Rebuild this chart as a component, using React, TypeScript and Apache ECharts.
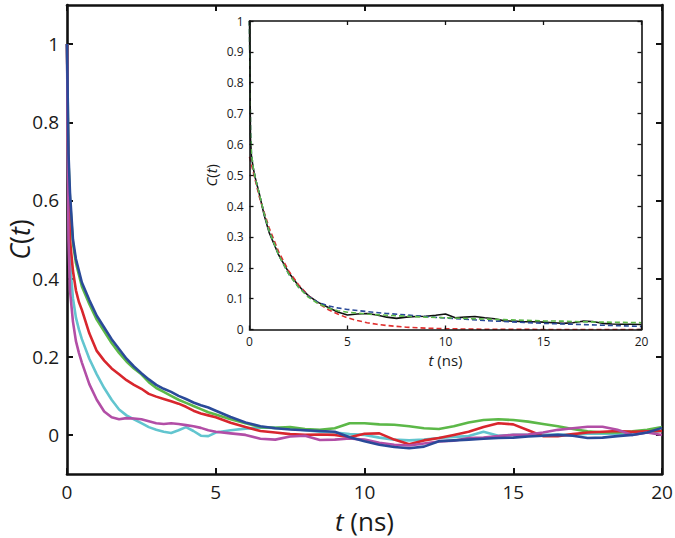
import React, { useEffect, useRef } from "react";
import * as echarts from "echarts";

// ---------- main panel data ----------
const tMain = [0, 0.05, 0.1, 0.2, 0.3, 0.4, 0.5, 0.75, 1, 1.25, 1.5, 1.75, 2, 2.25, 2.5, 2.75, 3, 3.25, 3.5, 3.75, 4, 4.25, 4.5, 4.75, 5, 5.5, 6, 6.5, 7, 7.5, 8, 8.5, 9, 9.5, 10, 10.5, 11, 11.5, 12, 12.5, 13, 13.5, 14, 14.5, 15, 15.5, 16, 16.5, 17, 17.5, 18, 18.5, 19, 19.5, 20];
const blueMain = [1.0, 0.72, 0.62, 0.5, 0.45, 0.42, 0.39, 0.345, 0.305, 0.275, 0.245, 0.22, 0.195, 0.175, 0.158, 0.142, 0.128, 0.118, 0.11, 0.1, 0.092, 0.083, 0.076, 0.07, 0.062, 0.046, 0.032, 0.022, 0.017, 0.014, 0.012, 0.01, 0.008, -0.006, -0.016, -0.025, -0.031, -0.034, -0.03, -0.016, -0.014, -0.012, -0.01, -0.008, -0.007, -0.004, -0.002, 0.0, -0.002, -0.008, -0.007, -0.003, 0.0, 0.006, 0.018];
const greenMain = [1.0, 0.7, 0.6, 0.49, 0.44, 0.41, 0.38, 0.335, 0.295, 0.265, 0.235, 0.21, 0.188, 0.17, 0.155, 0.135, 0.12, 0.11, 0.1, 0.09, 0.082, 0.074, 0.066, 0.058, 0.052, 0.04, 0.03, 0.02, 0.018, 0.02, 0.015, 0.013, 0.017, 0.03, 0.03, 0.027, 0.026, 0.022, 0.017, 0.015, 0.022, 0.032, 0.038, 0.04, 0.038, 0.034, 0.028, 0.022, 0.015, 0.009, 0.006, 0.006, 0.009, 0.013, 0.02];
const redMain = [1.0, 0.62, 0.5, 0.42, 0.37, 0.34, 0.32, 0.26, 0.215, 0.19, 0.17, 0.155, 0.14, 0.128, 0.118, 0.105, 0.098, 0.092, 0.086, 0.08, 0.072, 0.062, 0.055, 0.05, 0.045, 0.031, 0.02, 0.01, 0.006, 0.002, 0.0, 0.001, 0.0, -0.006, 0.003, 0.004, -0.012, -0.024, -0.014, -0.008, 0.0, 0.008, 0.02, 0.03, 0.027, 0.012, -0.003, -0.003, 0.002, 0.006, 0.008, 0.01, 0.008, 0.009, 0.01];
const cyanMain = [1.0, 0.58, 0.44, 0.35, 0.3, 0.27, 0.245, 0.195, 0.155, 0.12, 0.09, 0.065, 0.05, 0.04, 0.03, 0.02, 0.013, 0.008, 0.005, 0.012, 0.02, 0.01, -0.002, -0.003, 0.006, 0.012, 0.016, 0.019, 0.018, 0.016, 0.012, 0.008, 0.006, 0.002, 0.0, -0.007, -0.012, -0.014, -0.012, -0.008, -0.005, -0.003, 0.008, -0.002, 0.0, 0.0, 0.0, 0.001, 0.0, 0.003, 0.004, 0.002, 0.003, 0.006, 0.01];
const magentaMain = [1.0, 0.5, 0.37, 0.29, 0.24, 0.21, 0.185, 0.13, 0.09, 0.06, 0.045, 0.04, 0.043, 0.042, 0.04, 0.035, 0.03, 0.028, 0.03, 0.028, 0.025, 0.022, 0.018, 0.012, 0.008, 0.004, 0.0, -0.01, -0.012, -0.004, -0.002, -0.013, -0.012, -0.009, -0.012, -0.02, -0.025, -0.027, -0.022, -0.017, -0.015, -0.008, -0.007, -0.003, 0.0, 0.001, 0.006, 0.013, 0.017, 0.021, 0.021, 0.013, 0.0, 0.006, 0.0];

const mainYTicks = [0, 0.2, 0.4, 0.6, 0.8, 1];

// ---------- inset data ----------
const tInset = [0, 0.05, 0.1, 0.2, 0.3, 0.5, 0.75, 1, 1.5, 2, 2.5, 3, 3.5, 4, 4.5, 5, 5.5, 6, 6.5, 7, 7.5, 8, 8.5, 9, 9.5, 10, 10.5, 11, 11.5, 12, 12.5, 13, 13.5, 14, 14.5, 15, 15.5, 16, 16.5, 17, 17.5, 18, 18.5, 19, 19.5, 20];
const blackInset = [1.0, 0.62, 0.56, 0.52, 0.49, 0.44, 0.37, 0.315, 0.24, 0.185, 0.142, 0.11, 0.088, 0.072, 0.057, 0.047, 0.05, 0.052, 0.047, 0.04, 0.036, 0.04, 0.042, 0.043, 0.046, 0.05, 0.038, 0.04, 0.042, 0.038, 0.035, 0.028, 0.027, 0.025, 0.025, 0.024, 0.022, 0.02, 0.022, 0.027, 0.026, 0.02, 0.018, 0.017, 0.017, 0.016];

const tFitRed = [0, 0.5, 1, 1.5, 2, 2.5, 3, 3.5, 4, 4.5, 5, 5.5, 6, 6.5, 7, 7.5, 8, 9, 10, 11, 12, 14, 16, 18, 20];
const redFit = [0.56, 0.43, 0.33, 0.25, 0.19, 0.145, 0.11, 0.085, 0.065, 0.05, 0.038, 0.029, 0.022, 0.017, 0.013, 0.01, 0.0075, 0.0044, 0.0026, 0.0015, 0.0009, 0.0003, 0.0001, 0, 0];

const tFit = [0, 0.05, 0.1, 0.2, 0.3, 0.5, 0.75, 1, 1.5, 2, 2.5, 3, 3.5, 4, 4.5, 5, 6, 7, 8, 9, 10, 11, 12, 13, 14, 15, 16, 17, 18, 19, 20];
const blueFit = [1.0, 0.64, 0.57, 0.52, 0.49, 0.44, 0.375, 0.32, 0.24, 0.18, 0.138, 0.108, 0.088, 0.077, 0.07, 0.065, 0.058, 0.052, 0.047, 0.042, 0.037, 0.033, 0.029, 0.026, 0.023, 0.02, 0.018, 0.016, 0.014, 0.012, 0.01];
const greenFit = [1.0, 0.64, 0.57, 0.52, 0.49, 0.44, 0.375, 0.32, 0.24, 0.18, 0.137, 0.105, 0.084, 0.07, 0.061, 0.056, 0.05, 0.046, 0.043, 0.04, 0.038, 0.036, 0.034, 0.032, 0.03, 0.028, 0.027, 0.025, 0.024, 0.023, 0.022];

const zip = (t: number[], v: number[]) => t.map((x, i) => [x, v[i]]);

const FONT = "Open Sans";
const INK = "#1a1a1a";

export default function App() {
  const ref = useRef<HTMLDivElement>(null);
  useEffect(() => {
    const chart = echarts.init(ref.current!, null, { renderer: "svg" });
    const axisLine = (w: number) => ({ show: true, onZero: false, lineStyle: { color: "#111", width: w } });
    const mainLine = (name: string, color: string, data: number[]) => ({
      name, type: "line", xAxisIndex: 0, yAxisIndex: 0, data: zip(tMain, data),
      showSymbol: false, symbol: "none", lineStyle: { color, width: 2.6 }, z: 3,
    });
    const insetLine = (name: string, color: string, t: number[], data: number[], dashed: boolean) => ({
      name, type: "line", xAxisIndex: 2, yAxisIndex: 2, data: zip(t, data),
      showSymbol: false, symbol: "none",
      lineStyle: { color, width: 1.6, type: dashed ? [5, 3] : "solid" }, z: 5,
    });
    const rich = (size: number) => ({
      fontSize: size, fontFamily: FONT, color: INK, lineHeight: size,
      rich: { i: { fontSize: size, fontFamily: FONT, fontStyle: "italic", color: INK, lineHeight: size } },
    });
    chart.setOption({
      animation: false,
      backgroundColor: "#fff",
      grid: [
        { left: 67, top: 5, width: 595, height: 469, show: false, containLabel: false, outerBoundsMode: "none" },
        { left: 249.5, top: 21, width: 392, height: 308.5, show: true, backgroundColor: "#fff", borderWidth: 0, z: 4,
          containLabel: false, outerBoundsMode: "none" },
      ],
      xAxis: [
        {
          type: "value", gridIndex: 0, position: "bottom", min: 0, max: 20, interval: 5,
          axisLine: axisLine(2.6), splitLine: { show: false },
          axisTick: { show: true, inside: true, length: 6, lineStyle: { color: "#111", width: 2 } },
          axisLabel: { show: true, margin: 8, fontSize: 19, fontFamily: FONT, color: INK },
          name: "{i|t} (ns)", nameLocation: "middle", nameGap: 34, nameMoveOverlap: false,
          nameTextStyle: rich(26),
        },
        {
          type: "value", gridIndex: 0, position: "top", min: 0, max: 20, interval: 5,
          axisLine: axisLine(2.6), splitLine: { show: false },
          axisTick: { show: true, inside: true, length: 6, lineStyle: { color: "#111", width: 2 } },
          axisLabel: { show: false },
        },
        {
          type: "value", gridIndex: 1, position: "bottom", min: 0, max: 20, interval: 5,
          axisLine: axisLine(1.6), splitLine: { show: false }, z: 6,
          axisTick: { show: true, inside: true, length: 4, lineStyle: { color: "#111", width: 1.3 } },
          axisLabel: { show: true, margin: 6, fontSize: 12, fontFamily: FONT, color: INK },
          name: "{i|t} (ns)", nameLocation: "middle", nameGap: 23, nameMoveOverlap: false,
          nameTextStyle: rich(15),
        },
        {
          type: "value", gridIndex: 1, position: "top", min: 0, max: 20, interval: 5,
          axisLine: axisLine(1.6), splitLine: { show: false }, z: 6,
          axisTick: { show: true, inside: true, length: 4, lineStyle: { color: "#111", width: 1.3 } },
          axisLabel: { show: false },
        },
      ],
      yAxis: [
        {
          type: "value", gridIndex: 0, position: "left", min: -0.1, max: 1.1,
          axisLine: axisLine(2.6), splitLine: { show: false },
          axisTick: { show: true, inside: true, length: 6, lineStyle: { color: "#111", width: 2 },
            customValues: mainYTicks },
          axisLabel: { show: true, margin: 8, fontSize: 19, fontFamily: FONT, color: INK,
            customValues: mainYTicks, formatter: (v: number) => String(Math.round(v * 10) / 10) },
          name: "{i|C}({i|t})", nameLocation: "middle", nameGap: 34, nameMoveOverlap: false,
          nameTextStyle: rich(27),
        },
        {
          type: "value", gridIndex: 0, position: "right", min: -0.1, max: 1.1,
          axisLine: axisLine(2.6), splitLine: { show: false },
          axisTick: { show: true, inside: true, length: 6, lineStyle: { color: "#111", width: 2 },
            customValues: mainYTicks },
          axisLabel: { show: false },
        },
        {
          type: "value", gridIndex: 1, position: "left", min: 0, max: 1, interval: 0.1,
          axisLine: axisLine(1.6), splitLine: { show: false }, z: 6,
          axisTick: { show: true, inside: true, length: 4, lineStyle: { color: "#111", width: 1.3 } },
          axisLabel: { show: true, margin: 6, fontSize: 12, fontFamily: FONT, color: INK,
            formatter: (v: number) => String(Math.round(v * 10) / 10) },
          name: "{i|C}({i|t})", nameLocation: "middle", nameGap: 31, nameMoveOverlap: false,
          nameTextStyle: rich(15),
        },
        {
          type: "value", gridIndex: 1, position: "right", min: 0, max: 1, interval: 0.1,
          axisLine: axisLine(1.6), splitLine: { show: false }, z: 6,
          axisTick: { show: true, inside: true, length: 4, lineStyle: { color: "#111", width: 1.3 } },
          axisLabel: { show: false },
        },
      ],
      series: [
        mainLine("cyan", "#62c5cf", cyanMain),
        mainLine("green", "#5cb848", greenMain),
        mainLine("red", "#d8262d", redMain),
        mainLine("magenta", "#b24ea6", magentaMain),
        mainLine("blue", "#2a4a99", blueMain),
        insetLine("data", "#111111", tInset, blackInset, false),
        insetLine("single exp", "#e0302f", tFitRed, redFit, true),
        insetLine("fit blue", "#2a4a99", tFit, blueFit, true),
        insetLine("fit green", "#5cb848", tFit, greenFit, true),
      ],
    });
    return () => chart.dispose();
  }, []);
  return <div ref={ref} style={{ position: "fixed", left: 0, top: 0, width: 675, height: 538 }} />;
}
